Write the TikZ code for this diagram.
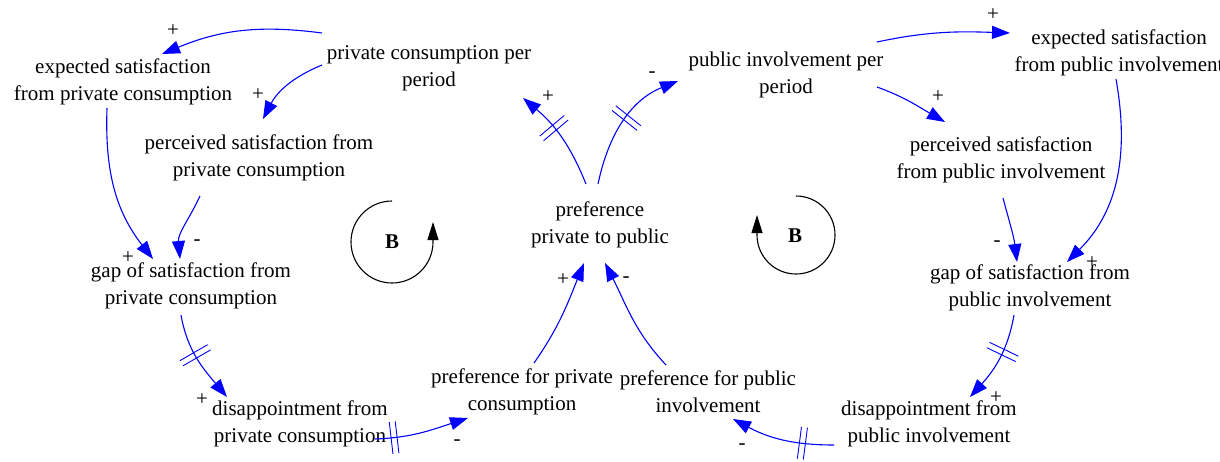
\documentclass[tikz,border=0pt]{standalone}
\usepackage{fontspec}
\setmainfont{Liberation Serif}
\usetikzlibrary{arrows.meta,decorations.markings}
\tikzset{
  var/.style     = {align=center, inner sep=2pt},
  lnk/.style     = {draw=blue, line width=1.1pt, -{Triangle[length=18pt,width=13pt]}},
  dly/.style     = {postaction={decorate, decoration={markings,
                    mark=at position #1 with {\draw[blue, line width=0.9pt, -]
                    (-3,-16) -- (-3,16) (3,-16) -- (3,16);}}}},
  pol/.style     = {inner sep=0pt, text=black},
  loopar/.style  = {line width=1.1pt, -{Triangle[length=18pt,width=11pt]}},
  looplbl/.style = {font=\bfseries}
}

\begin{document}
\begin{tikzpicture}[x=1pt, y=1pt]
\fontsize{21}{27}\selectfont
\useasboundingbox (0,0) rectangle (1220,-461);

% private side
\node[var] (expPriv)  at (123,-82)  {expected satisfaction\\from private consumption};
\node[var] (consPriv) at (429,-68)  {private consumption per\\period};
\node[var] (percPriv) at (259,-158) {perceived satisfaction from\\private consumption};
\node[var] (gapPriv)  at (191,-286) {gap of satisfaction from\\private consumption};
\node[var] (disPriv)  at (300,-424) {disappointment from\\private consumption};
\node[var] (prefPriv) at (522,-392) {preference for private\\consumption};

% centre
\node[var] (pref)     at (600,-225) {preference\\private to public};

% public side
\node[var] (prefPub)  at (708,-392)  {preference for public\\involvement};
\node[var] (invPub)   at (786,-75)   {public involvement per\\period};
\node[var] (expPub)   at (1119,-53)  {expected satisfaction\\from public involvement};
\node[var] (percPub)  at (1001,-160) {perceived satisfaction\\from public involvement};
\node[var] (gapPub)   at (1030,-288) {gap of satisfaction from\\public involvement};
\node[var] (disPub)   at (929,-424)  {disappointment from\\public involvement};

% links, private loop
\draw[lnk] ([shift={(-107,35)}]consPriv.center) to[bend right=15]
      node[pol, pos=1, xshift=11pt, yshift=23pt] {+} ([shift={(39,28)}]expPriv.center);
\draw[lnk] ([shift={(-107,3)}]consPriv.center) to[bend right=20]
      node[pol, pos=1, xshift=-5pt, yshift=24pt] {+} ([shift={(4,39)}]percPriv.center);
\draw[lnk] ([shift={(-16,-26)}]expPriv.center) to[out=-92, in=128]
      node[pol, pos=1, xshift=-25pt, yshift=1pt] {+} ([shift={(-38,27)}]gapPriv.center);
\draw[lnk] ([shift={(-59,-38)}]percPriv.center) to[out=-115, in=95]
      node[pol, pos=1, xshift=17pt, yshift=16pt] {-} ([shift={(-11,27)}]gapPriv.center);
\draw[lnk, dly=0.45] ([shift={(-10,-29)}]gapPriv.center) to[out=-80, in=130]
      node[pol, pos=1, xshift=-25pt, yshift=-3pt] {+} ([shift={(-73,27)}]disPriv.center);
\draw[lnk, dly=0.2] ([shift={(75,-15)}]disPriv.center) to[out=2, in=198]
      node[pol, pos=1, xshift=-11pt, yshift=-25pt] {-} ([shift={(-54,-26)}]prefPriv.center);
\draw[lnk] ([shift={(12,29)}]prefPriv.center) to[out=55, in=-112]
      node[pol, pos=1, xshift=-21pt, yshift=-17pt] {+} ([shift={(-16,-38)}]pref.center);
\draw[lnk, dly=0.6] ([shift={(-14,41)}]pref.center) to[out=112, in=-40]
      node[pol, pos=1, xshift=25pt, yshift=1pt] {+} ([shift={(94,-30)}]consPriv.center);

% links, public loop
\draw[lnk] ([shift={(-42,27)}]prefPub.center) to[out=133, in=-63]
      node[pol, pos=1, xshift=21pt, yshift=-17pt] {-} ([shift={(5,-38)}]pref.center);
\draw[lnk, dly=0.53] ([shift={(-2,41)}]pref.center) to[out=78, in=-158]
      node[pol, pos=1, xshift=-26pt, yshift=6pt] {-} ([shift={(-108,-6)}]invPub.center);
\draw[lnk] ([shift={(91,33)}]invPub.center) to[out=12, in=178]
      node[pol, pos=1, xshift=-17pt, yshift=18pt] {+} ([shift={(-109,20)}]expPub.center);
\draw[lnk] ([shift={(91,-12)}]invPub.center) to[out=-20, in=150]
      node[pol, pos=1, xshift=-7pt, yshift=25pt] {+} ([shift={(-56,38)}]percPub.center);
\draw[lnk] ([shift={(-3,-26)}]expPub.center) to[out=-80, in=45]
      node[pol, pos=1, xshift=25pt, yshift=-1pt] {+} ([shift={(37,26)}]gapPub.center);
\draw[lnk] ([shift={(2,-38)}]percPub.center) to[out=-75, in=97]
      node[pol, pos=1, xshift=-20pt, yshift=18pt] {-} ([shift={(-13,26)}]gapPub.center);
\draw[lnk, dly=0.41] ([shift={(-16,-27)}]gapPub.center) to[out=-100, in=48]
      node[pol, pos=1, xshift=26pt, yshift=-1pt] {+} ([shift={(41,27)}]disPub.center);
\draw[lnk, dly=0.3] ([shift={(-95,-21)}]disPub.center) to[out=180, in=-28]
      node[pol, pos=1, xshift=9pt, yshift=-28pt] {-} ([shift={(25,-27)}]prefPub.center);

% loop markers
\coordinate (loopL) at (392,-242);
\draw[loopar] ([yshift=41pt]loopL) arc[start angle=90, end angle=360, radius=41] -- ++(0,20);
\node[looplbl] (bL) at (loopL) {B};
\coordinate (loopR) at (796,-235);
\draw[loopar] ([yshift=39pt]loopR) arc[start angle=90, end angle=-180, radius=39] -- ++(0,20);
\node[looplbl] (bR) at (795,-236) {B};
\end{tikzpicture}
\end{document}
